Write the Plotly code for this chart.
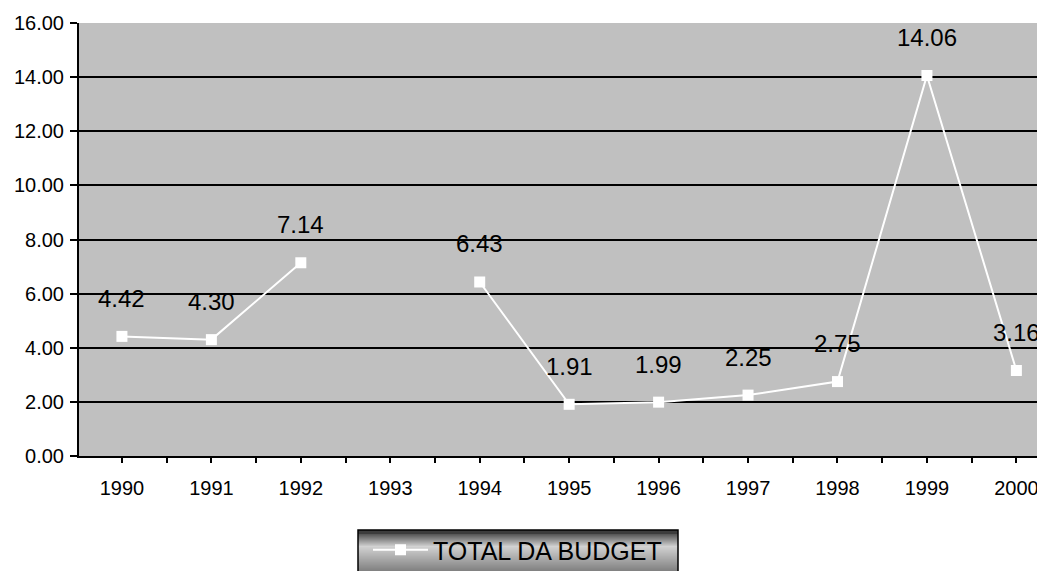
import plotly.graph_objects as go

years = [1990, 1991, 1992, 1993, 1994, 1995, 1996, 1997, 1998, 1999, 2000]
year_labels = [str(y) for y in years]
budget = [4.42, 4.30, 7.14, None, 6.43, 1.91, 1.99, 2.25, 2.75, 14.06, 3.16]
y_ticks = [0, 2, 4, 6, 8, 10, 12, 14, 16]
y_tick_labels = ["%.2f" % v for v in y_ticks]
series_name = "TOTAL DA BUDGET"

OFF = 8  # default page body margin
W, H = 1045 - OFF, 571 - OFF
ML, MR, MT, MB = 79 - OFF, 0, 23 - OFF, 115
PW, PH = W - ML - MR, H - MT - MB
FONT = "Liberation Sans, Arial, sans-serif"


def px_x(p):
    # screen pixel -> paper
    return (p - OFF - ML) / PW


def px_y(p):
    return (H - MB - (p - OFF)) / PH


fig = go.Figure()
fig.add_trace(go.Scatter(
    x=years, y=budget, name=series_name, mode="lines+markers",
    line=dict(color="white", width=2),
    marker=dict(symbol="square", size=11, color="white"),
    connectgaps=False, showlegend=True,
))

for i, (xv, yv) in enumerate(zip(years, budget)):
    if yv is None:
        continue
    fig.add_annotation(x=xv, y=yv, text="%.2f" % yv, showarrow=False,
                       yshift=38, xanchor="center", yanchor="middle",
                       font=dict(family=FONT, size=24, color="black"))

# legend box with gradient (screen pixel geometry)
LX0, LX1, LY0, LY1 = 358, 678, 530, 580
shapes = []
n = LY1 - LY0
for i in range(n):
    t = i / 40.0
    if t < 0.08:
        g = 60
    elif t < 0.4:
        g = 80 + (210 - 80) * ((t - 0.08) / 0.32)
    else:
        g = 210 - (210 - 130) * min(1.0, (t - 0.4) / 0.6)
    g = int(g)
    shapes.append(dict(type="rect", xref="paper", yref="paper",
                       x0=px_x(LX0), x1=px_x(LX1),
                       y0=px_y(LY0 + i + 1), y1=px_y(LY0 + i),
                       line=dict(width=0), fillcolor="rgb(%d,%d,%d)" % (g, g, g),
                       layer="below"))
shapes.append(dict(type="rect", xref="paper", yref="paper",
                   x0=px_x(LX0), x1=px_x(LX1), y0=px_y(LY1), y1=px_y(LY0),
                   line=dict(width=1.5, color="black"), fillcolor="rgba(0,0,0,0)",
                   layer="below"))

fig.update_layout(
    width=W, height=H,
    margin=dict(l=ML, r=MR, t=MT, b=MB, pad=0, autoexpand=False),
    paper_bgcolor="white", plot_bgcolor="#C0C0C0",
    font=dict(family=FONT, size=20, color="black"),
    showlegend=True,
    legend=dict(x=px_x(LX0 + 10), y=px_y(527), xanchor="left", yanchor="top",
                bgcolor="rgba(0,0,0,0)", borderwidth=0, itemwidth=55,
                font=dict(family=FONT, size=25, color="black")),
    shapes=shapes,
    xaxis=dict(range=[1989.52, 2000.32], tickvals=years, ticktext=year_labels,
               showgrid=False, zeroline=False, showline=True, linecolor="black",
               linewidth=2, ticks="outside", ticklen=5, tickwidth=2, tickcolor="black",
               ticklabelstandoff=8,
               tickfont=dict(family=FONT, size=20, color="black"),
               minor=dict(tickvals=[y + 0.5 for y in years[:-1]], ticks="outside",
                          ticklen=5, tickwidth=2, tickcolor="black")),
    yaxis=dict(range=[0, 16], tickvals=y_ticks, ticktext=y_tick_labels,
               showgrid=True, gridcolor="black", gridwidth=1.5, zeroline=False,
               showline=True, linecolor="black", linewidth=2,
               ticks="outside", ticklen=7, tickwidth=2, tickcolor="black",
               ticklabelstandoff=2,
               tickfont=dict(family=FONT, size=20, color="black")),
)

fig.write_html("out.html")
